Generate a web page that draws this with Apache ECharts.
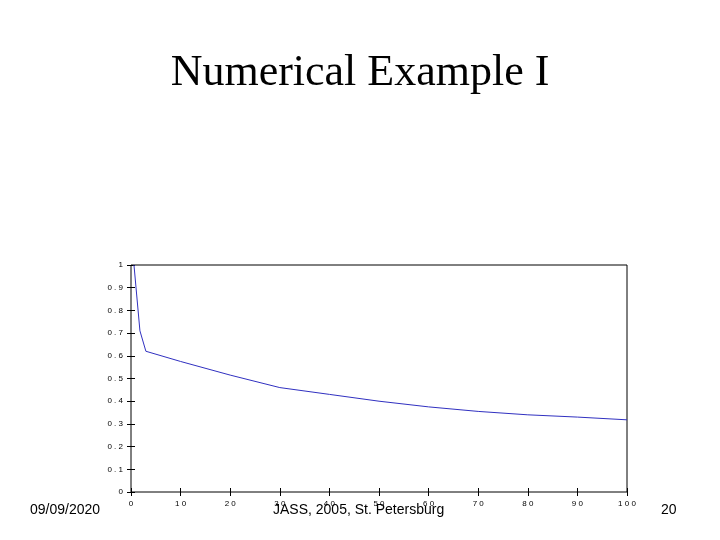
<!DOCTYPE html>
<html><head><meta charset="utf-8">
<script src="https://cdn.jsdelivr.net/npm/echarts@6/dist/echarts.min.js"></script>
<style>body{margin:0;background:#fff}#c{width:720px;height:540px}</style>
</head><body><div id="c"></div>
<script>
var xs = [0.6, 1.8, 3, 10, 20, 30, 40, 50, 60, 70, 80, 90, 100];
var ys = [1, 0.71, 0.62, 0.575, 0.515, 0.46, 0.43, 0.40, 0.375, 0.355, 0.34, 0.33, 0.318];
var spaced = function (v) { return String(+v.toFixed(1)).split('').join(' '); };
var tick = { inside: true, length: 4, lineStyle: { color: '#000' } };
var chart = echarts.init(document.getElementById('c'));
chart.setOption({
    backgroundColor: '#fff',
    animation: false,
    title: {
        text: 'Numerical Example I', left: 'center', top: 46,
        textStyle: { fontFamily: 'Liberation Serif', fontWeight: 'normal', fontSize: 44, color: '#000' }
    },
    graphic: [
        { type: 'text', left: 30, top: 503, style: { text: '09/09/2020', font: '14px Liberation Sans', fill: '#000' } },
        { type: 'text', left: 273, top: 503, style: { text: 'JASS, 2005, St. Petersburg', font: '14px Liberation Sans', fill: '#000' } },
        { type: 'text', left: 661, top: 503, style: { text: '20', font: '14px Liberation Sans', fill: '#000' } }
    ],
    grid: { left: 131, right: 93, top: 265, bottom: 48, show: true, borderColor: '#000', borderWidth: 1 },
    xAxis: [{
        type: 'value', min: 0, max: 100, interval: 10,
        axisLine: { show: false }, splitLine: { show: false }, axisTick: tick,
        axisLabel: { fontSize: 8, color: '#000', margin: 8, formatter: spaced }
    }, {
        type: 'value', position: 'top', min: 0, max: 100, interval: 10,
        axisLine: { show: false }, splitLine: { show: false }, axisTick: tick,
        axisLabel: { show: false }
    }],
    yAxis: [{
        type: 'value', min: 0, max: 1, interval: 0.1,
        axisLine: { show: false }, splitLine: { show: false }, axisTick: tick,
        axisLabel: { fontSize: 8, color: '#000', margin: 8, formatter: spaced }
    }, {
        type: 'value', position: 'right', min: 0, max: 1, interval: 0.1,
        axisLine: { show: false }, splitLine: { show: false }, axisTick: tick,
        axisLabel: { show: false }
    }],
    series: [{
        type: 'line', showSymbol: false, data: xs.map(function (x, i) { return [x, ys[i]]; }),
        lineStyle: { color: '#3030c0', width: 1 }
    }]
});
</script></body></html>
